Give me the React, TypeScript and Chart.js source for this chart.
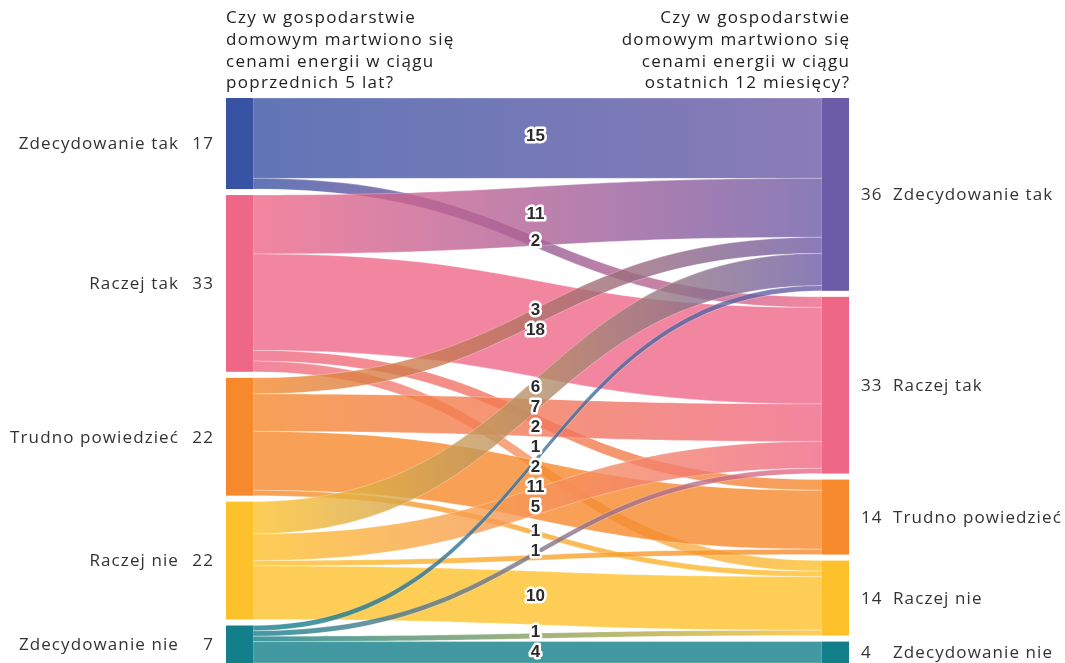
import { useEffect, useRef } from "react";
import { Chart, registerables } from "chart.js";

Chart.register(...registerables);

// ---------- data ----------
const leftNodes = ["Zdecydowanie tak", "Raczej tak", "Trudno powiedzieć", "Raczej nie", "Zdecydowanie nie"];
const rightNodes = ["Zdecydowanie tak", "Raczej tak", "Trudno powiedzieć", "Raczej nie", "Zdecydowanie nie"];
const leftColors = ["#3953a4", "#ef6787", "#f5892c", "#fdc12b", "#137f8a"];
const rightColors = ["#6c5ba6", "#ef6787", "#f5892c", "#fdc12b", "#137f8a"];

const linkSource = [0, 0, 1, 1, 1, 1, 2, 2, 2, 2, 3, 3, 3, 3, 4, 4, 4, 4];
const linkTarget = [0, 1, 0, 1, 2, 3, 0, 1, 2, 3, 0, 1, 2, 3, 0, 1, 3, 4];
const linkValue = [15, 2, 11, 18, 2, 2, 3, 7, 11, 1, 6, 5, 1, 10, 1, 1, 1, 4];
const linkLabelShown = [true, true, true, true, true, true, true, true, true, true, true, true, false, true, true, true, true, true];

const leftTitle = ["Czy w gospodarstwie", "domowym martwiono się", "cenami energii w ciągu", "poprzednich 5 lat?"];
const rightTitle = ["Czy w gospodarstwie", "domowym martwiono się", "cenami energii w ciągu", "ostatnich 12 miesięcy?"];

// ---------- style ----------
const W = 1065;
const H = 663;
const GAP = 1.121; // gap between nodes, in value units
const NODE_PX = 27;
const FONT = "'Open Sans', sans-serif";
const TEXT = "#333333";
const LINK_ALPHA = 0.8;
const LABEL_MIN_GAP = 20;

function hexToRgba(hex: string, a: number) {
  const n = parseInt(hex.slice(1), 16);
  return `rgba(${(n >> 16) & 255},${(n >> 8) & 255},${n & 255},${a})`;
}

const leftTotals = leftNodes.map((_, i) => linkValue.reduce((s, v, k) => s + (linkSource[k] === i ? v : 0), 0));
const rightTotals = rightNodes.map((_, i) => linkValue.reduce((s, v, k) => s + (linkTarget[k] === i ? v : 0), 0));
const total = leftTotals.reduce((a, b) => a + b, 0);
const yMax = total + GAP * (leftNodes.length - 1);

function nodeTops(totals: number[]) {
  const tops: number[] = [];
  let acc = 0;
  totals.forEach((t) => {
    tops.push(acc);
    acc += t + GAP;
  });
  return tops;
}

function setSpacing(ctx: any, px: number) {
  if ("letterSpacing" in ctx) ctx.letterSpacing = `${px}px`;
}

const sankeyPlugin = {
  id: "sankey",
  afterDraw(chart: any) {
    const ctx: CanvasRenderingContext2D = chart.ctx;
    const xs = chart.scales.x;
    const ys = chart.scales.y;
    const area = chart.chartArea;
    const nodeW = NODE_PX / (area.right - area.left);
    const lx0 = xs.getPixelForValue(0);
    const lx1 = xs.getPixelForValue(nodeW);
    const rx0 = xs.getPixelForValue(1 - nodeW);
    const rx1 = xs.getPixelForValue(1);

    const lTops = nodeTops(leftTotals);
    const rTops = nodeTops(rightTotals);

    const srcOff = lTops.slice();
    const tgtOff = rTops.slice();
    const srcStart: number[] = [];
    const tgtStart: number[] = [];
    linkValue.forEach((v, k) => {
      srcStart[k] = srcOff[linkSource[k]];
      srcOff[linkSource[k]] += v;
    });
    const order = linkValue.map((_, k) => k).sort((a, b) => linkTarget[a] - linkTarget[b] || linkSource[a] - linkSource[b]);
    order.forEach((k) => {
      tgtStart[k] = tgtOff[linkTarget[k]];
      tgtOff[linkTarget[k]] += linkValue[k];
    });

    ctx.save();
    const xm = (lx1 + rx0) / 2;
    const labels: { y: number; text: string }[] = [];
    linkValue.forEach((v, k) => {
      const sy0 = ys.getPixelForValue(srcStart[k]);
      const sy1 = ys.getPixelForValue(srcStart[k] + v);
      const ty0 = ys.getPixelForValue(tgtStart[k]);
      const ty1 = ys.getPixelForValue(tgtStart[k] + v);
      const grad = ctx.createLinearGradient(lx1, 0, rx0, 0);
      grad.addColorStop(0, hexToRgba(leftColors[linkSource[k]], LINK_ALPHA));
      grad.addColorStop(1, hexToRgba(rightColors[linkTarget[k]], LINK_ALPHA));
      ctx.beginPath();
      ctx.moveTo(lx1, sy0);
      ctx.bezierCurveTo(xm, sy0, xm, ty0, rx0, ty0);
      ctx.lineTo(rx0, ty1);
      ctx.bezierCurveTo(xm, ty1, xm, sy1, lx1, sy1);
      ctx.closePath();
      ctx.fillStyle = grad;
      ctx.fill();
      ctx.strokeStyle = "rgba(255,255,255,0.35)";
      ctx.lineWidth = 0.8;
      ctx.stroke();
      if (linkLabelShown[k]) labels.push({ y: (sy0 + sy1 + ty0 + ty1) / 4, text: String(v) });
    });

    // nodes
    ctx.font = `17px ${FONT}`;
    setSpacing(ctx, 1.1);
    leftTotals.forEach((t, i) => {
      const y0 = ys.getPixelForValue(lTops[i]);
      const y1 = ys.getPixelForValue(lTops[i] + t);
      ctx.fillStyle = leftColors[i];
      ctx.fillRect(lx0, y0, lx1 - lx0, y1 - y0);
      ctx.fillStyle = TEXT;
      ctx.textBaseline = "middle";
      ctx.textAlign = "right";
      const yc = (y0 + y1) / 2 + 1;
      ctx.fillText(String(t), lx0 - 12, yc);
      ctx.fillText(leftNodes[i], lx0 - 47, yc);
    });
    rightTotals.forEach((t, i) => {
      const y0 = ys.getPixelForValue(rTops[i]);
      const y1 = ys.getPixelForValue(rTops[i] + t);
      ctx.fillStyle = rightColors[i];
      ctx.fillRect(rx0, y0, rx1 - rx0, y1 - y0);
      ctx.fillStyle = TEXT;
      ctx.textBaseline = "middle";
      ctx.textAlign = "left";
      const yc = (y0 + y1) / 2 + 1;
      ctx.fillText(String(t), rx1 + 12, yc);
      ctx.fillText(rightNodes[i], rx1 + 44, yc);
    });

    // titles
    ctx.fillStyle = "#222222";
    setSpacing(ctx, 1.3);
    ctx.textBaseline = "alphabetic";
    ctx.textAlign = "left";
    leftTitle.forEach((line, i) => ctx.fillText(line, lx0, area.top - 75 + i * 21.8));
    ctx.textAlign = "right";
    rightTitle.forEach((line, i) => ctx.fillText(line, rx1 + 1.3, area.top - 75 + i * 21.8));
    setSpacing(ctx, 0);

    // value labels with simple collision relaxation
    labels.sort((a, b) => a.y - b.y);
    for (let it = 0; it < 200; it++) {
      for (let i = 1; i < labels.length; i++) {
        const d = labels[i].y - labels[i - 1].y;
        if (d < LABEL_MIN_GAP) {
          const s = (LABEL_MIN_GAP - d) / 2;
          labels[i - 1].y -= s;
          labels[i].y += s;
        }
      }
    }
    ctx.font = "bold 17px 'Liberation Sans', Arial, sans-serif";
    ctx.textAlign = "center";
    ctx.textBaseline = "middle";
    ctx.lineJoin = "round";
    labels.forEach((l) => {
      ctx.strokeStyle = "#ffffff";
      ctx.lineWidth = 5;
      ctx.strokeText(l.text, xm - 2, l.y - 2);
      ctx.fillStyle = "#2b2b2b";
      ctx.fillText(l.text, xm - 2, l.y - 2);
    });
    ctx.restore();
  },
};

export default function App() {
  const ref = useRef<HTMLCanvasElement | null>(null);
  useEffect(() => {
    if (!ref.current) return;
    const chart = new Chart(ref.current, {
      type: "scatter",
      data: { datasets: [{ data: [], pointRadius: 0 }] },
      options: {
        responsive: false,
        animation: false,
        devicePixelRatio: 1,
        layout: { padding: { left: 226, right: 216, top: 98, bottom: 0 } },
        scales: {
          x: { type: "linear", min: 0, max: 1, display: false },
          y: { type: "linear", min: 0, max: yMax, reverse: true, display: false },
        },
        plugins: { legend: { display: false }, tooltip: { enabled: false } },
      },
      plugins: [sankeyPlugin],
    } as any);
    return () => chart.destroy();
  }, []);
  return (
    <div style={{ position: "absolute", left: 0, top: 0, width: W, height: H, background: "#fff" }}>
      <canvas ref={ref} width={W} height={H} style={{ display: "block", width: W, height: H }} />
    </div>
  );
}
